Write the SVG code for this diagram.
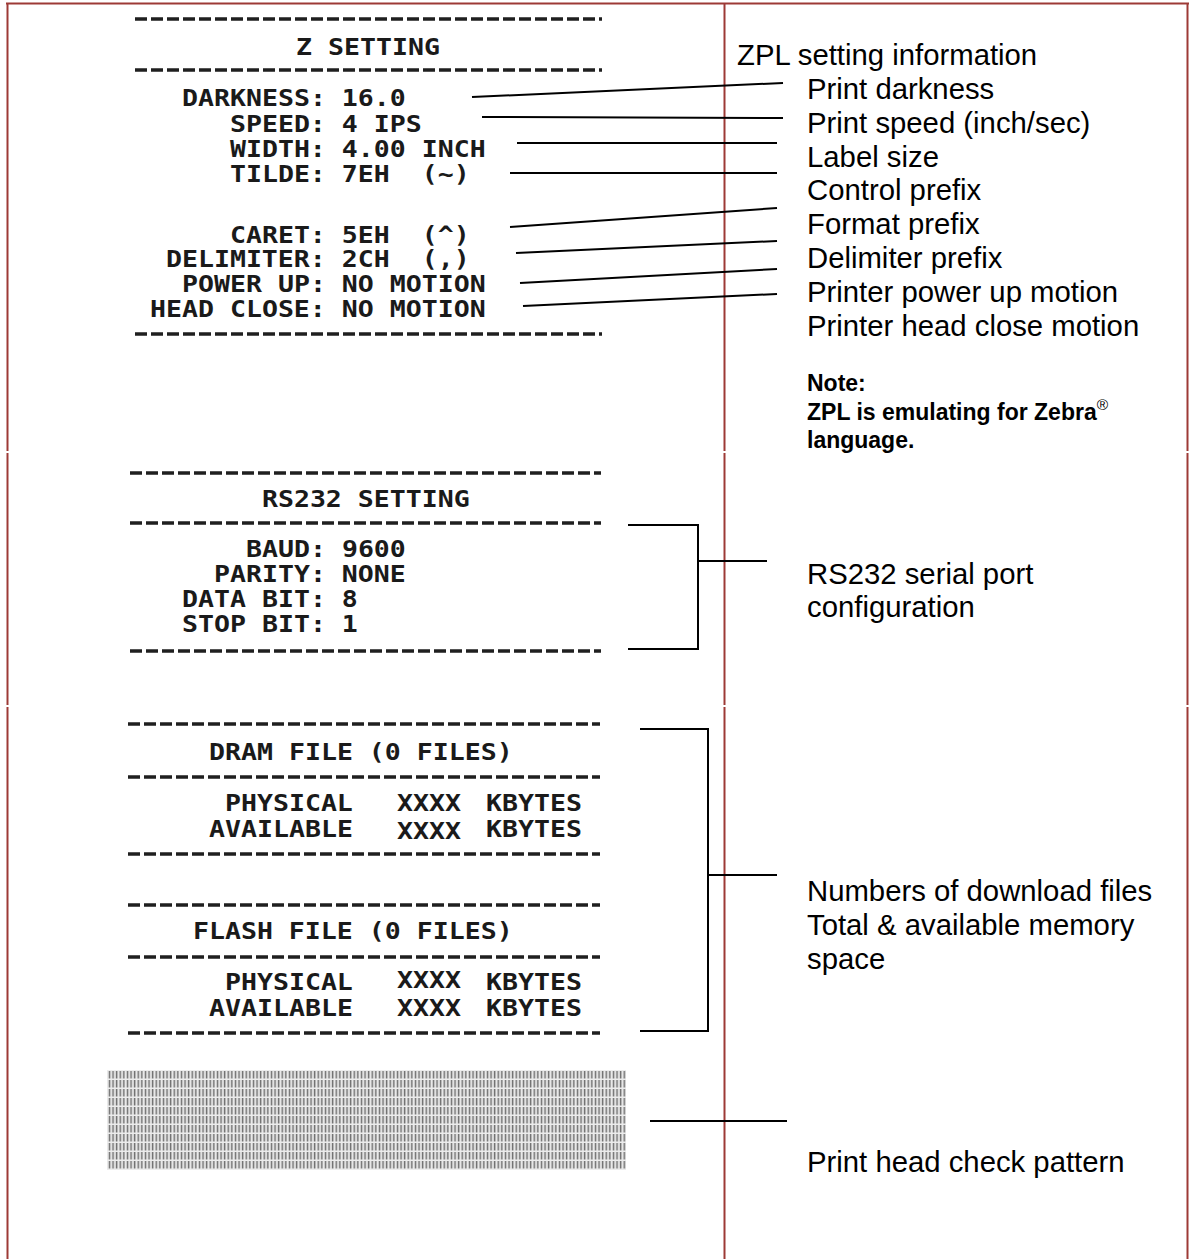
<svg xmlns="http://www.w3.org/2000/svg" width="1190" height="1259" viewBox="0 0 1190 1259">
<style>
.pr{font-family:"DejaVu Sans Mono","Liberation Mono",monospace;font-weight:bold;font-size:23px;fill:#1a1a1a}
.lb{font-family:"Liberation Sans",Arial,sans-serif;font-size:29.3px;fill:#000}
.nt{font-family:"Liberation Sans",Arial,sans-serif;font-size:23px;font-weight:bold;fill:#000}
.rule{stroke:#1f1f1f;stroke-width:3.3;stroke-dasharray:12 4;fill:none}
.bd{stroke:#9d3a36;stroke-width:2;fill:none}
.cn{stroke:#000;stroke-width:2;fill:none}
</style>
<defs>
<pattern id="stripes" width="3.6" height="9" patternUnits="userSpaceOnUse">
<rect width="3.6" height="9" fill="#ececec"/>
<rect x="0.7" y="0" width="1.5" height="7.5" fill="#6e6e6e"/>
</pattern>
</defs>
<rect width="1190" height="1259" fill="#fff"/>
<g id="border">
<line class="bd" x1="6" y1="3.5" x2="1189" y2="3.5"/>
<line class="bd" x1="7.5" y1="3" x2="7.5" y2="451"/>
<line class="bd" x1="7.5" y1="453" x2="7.5" y2="705"/>
<line class="bd" x1="7.5" y1="707" x2="7.5" y2="1259"/>
<line class="bd" x1="724.5" y1="3" x2="724.5" y2="451"/>
<line class="bd" x1="724.5" y1="453" x2="724.5" y2="705"/>
<line class="bd" x1="724.5" y1="707" x2="724.5" y2="1259"/>
<line class="bd" x1="1187.5" y1="3" x2="1187.5" y2="451"/>
<line class="bd" x1="1187.5" y1="453" x2="1187.5" y2="705"/>
<line class="bd" x1="1187.5" y1="707" x2="1187.5" y2="1259"/>
</g>
<g id="z-setting">
<line class="rule" x1="135" y1="19" x2="602" y2="19"/>
<line class="rule" x1="135" y1="70" x2="602" y2="70"/>
<line class="rule" x1="135" y1="334" x2="602" y2="334"/>
<g transform="scale(1.155,1)">
<text class="pr" x="256.3" y="55">Z SETTING</text>
<text class="pr" x="157.6" y="106">DARKNESS: 16.0</text>
<text class="pr" x="199.1" y="132">SPEED: 4 IPS</text>
<text class="pr" x="199.1" y="157">WIDTH: 4.00 INCH</text>
<text class="pr" x="199.1" y="182" xml:space="preserve">TILDE: 7EH  (~)</text>
<text class="pr" x="199.1" y="243" xml:space="preserve">CARET: 5EH  (^)</text>
<text class="pr" x="143.7" y="267.5" xml:space="preserve">DELIMITER: 2CH  (,)</text>
<text class="pr" x="157.6" y="292">POWER UP: NO MOTION</text>
<text class="pr" x="129.9" y="317">HEAD CLOSE: NO MOTION</text>
</g>
</g>
<g id="rs232-setting">
<line class="rule" x1="130" y1="473" x2="601" y2="473"/>
<line class="rule" x1="130" y1="523" x2="601" y2="523"/>
<line class="rule" x1="130" y1="651" x2="601" y2="651"/>
<g transform="scale(1.155,1)">
<text class="pr" x="226.8" y="507">RS232 SETTING</text>
<text class="pr" x="213.0" y="557">BAUD: 9600</text>
<text class="pr" x="185.3" y="582">PARITY: NONE</text>
<text class="pr" x="157.6" y="607">DATA BIT: 8</text>
<text class="pr" x="157.6" y="632.5">STOP BIT: 1</text>
</g>
</g>
<g id="dram-file">
<line class="rule" x1="128" y1="724" x2="600" y2="724"/>
<line class="rule" x1="128" y1="777" x2="600" y2="777"/>
<line class="rule" x1="128" y1="854" x2="600" y2="854"/>
<g transform="scale(1.155,1)">
<text class="pr" x="181.0" y="760">DRAM FILE (0 FILES)</text>
<text class="pr" y="811"><tspan x="194.8">PHYSICAL</tspan><tspan x="343.7">XXXX</tspan><tspan x="420.8">KBYTES</tspan></text>
<text class="pr" y="837"><tspan x="181.0">AVAILABLE</tspan><tspan x="343.7" dy="2">XXXX</tspan><tspan x="420.8" dy="-2">KBYTES</tspan></text>
</g>
</g>
<g id="flash-file">
<line class="rule" x1="128" y1="905" x2="600" y2="905"/>
<line class="rule" x1="128" y1="957" x2="600" y2="957"/>
<line class="rule" x1="128" y1="1033" x2="600" y2="1033"/>
<g transform="scale(1.155,1)">
<text class="pr" x="167.1" y="939">FLASH FILE (0 FILES)</text>
<text class="pr" y="990"><tspan x="194.8">PHYSICAL</tspan><tspan x="343.7" dy="-2">XXXX</tspan><tspan x="420.8" dy="2">KBYTES</tspan></text>
<text class="pr" y="1016"><tspan x="181.0">AVAILABLE</tspan><tspan x="343.7">XXXX</tspan><tspan x="420.8">KBYTES</tspan></text>
</g>
</g>
<g id="head-pattern">
<rect x="107" y="1070" width="519" height="100" fill="url(#stripes)"/>
</g>
<g id="labels">
<text class="lb" x="737" y="65">ZPL setting information</text>
<text class="lb" x="807" y="99">Print darkness</text>
<text class="lb" x="807" y="133">Print speed (inch/sec)</text>
<text class="lb" x="807" y="167">Label size</text>
<text class="lb" x="807" y="200">Control prefix</text>
<text class="lb" x="807" y="234">Format prefix</text>
<text class="lb" x="807" y="268">Delimiter prefix</text>
<text class="lb" x="807" y="302">Printer power up motion</text>
<text class="lb" x="807" y="336">Printer head close motion</text>
<text class="lb" x="807" y="584">RS232 serial port</text>
<text class="lb" x="807" y="617">configuration</text>
<text class="lb" x="807" y="901">Numbers of download files</text>
<text class="lb" x="807" y="935">Total &amp; available memory</text>
<text class="lb" x="807" y="969">space</text>
<text class="lb" x="807" y="1172">Print head check pattern</text>
</g>
<g id="note">
<text class="nt" x="807" y="391">Note:</text>
<text class="nt" x="807" y="420">ZPL is emulating for Zebra<tspan font-size="15.5" font-weight="normal" dy="-10">®</tspan></text>
<text class="nt" x="807" y="448">language.</text>
</g>
<g id="connectors">
<line class="cn" x1="472" y1="97" x2="783" y2="83"/>
<line class="cn" x1="482" y1="117" x2="783" y2="118"/>
<line class="cn" x1="517" y1="143" x2="777" y2="143"/>
<line class="cn" x1="510" y1="173" x2="777" y2="173"/>
<line class="cn" x1="510" y1="227" x2="777" y2="208"/>
<line class="cn" x1="516" y1="253" x2="777" y2="241"/>
<line class="cn" x1="520" y1="283" x2="777" y2="269"/>
<line class="cn" x1="523" y1="306" x2="777" y2="294"/>
<polyline class="cn" points="628,525 698,525 698,649 628,649"/>
<line class="cn" x1="698" y1="561" x2="767" y2="561"/>
<polyline class="cn" points="640,729 708,729 708,1031 640,1031"/>
<line class="cn" x1="708" y1="875" x2="777" y2="875"/>
<line class="cn" x1="650" y1="1121" x2="787" y2="1121"/>
</g>
</svg>
